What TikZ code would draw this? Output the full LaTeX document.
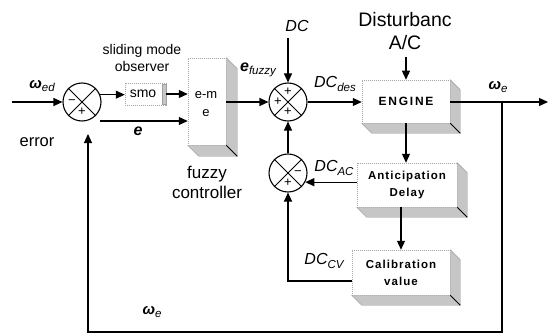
\documentclass[tikz,border=0pt]{standalone}
\usepackage{fontspec}
\setmainfont{Liberation Sans}
\usetikzlibrary{arrows.meta,calc}
\newcommand\subl[1]{\raisebox{-0.45ex}{\fontsize{11.5}{11.5}\selectfont\mdseries\itshape #1}}
\newcommand\sidebox[2]{%
  \fill[side] (#1.north east) -- ([shift={(#2,#2)}]#1.north east) -- ([shift={(#2,#2)}]#1.south east)
    -- ([shift={(#2,#2)}]#1.south west) -- (#1.south west) -- (#1.south east) -- cycle;
  \draw[line width=0.9pt] (#1.south east) -- ([shift={(#2,#2)}]#1.south east);}
\begin{document}
\begin{tikzpicture}[x=1pt,y=-1pt,
  conn/.style={line width=1.1pt,-{Triangle[length=9pt,width=8pt]}},
  wire/.style={line width=1.1pt},
  sumnode/.style={circle,draw,line width=1.1pt,minimum size=38pt,inner sep=0pt},
  face/.style={draw=gray!70,line width=0.5pt,dash pattern=on 1pt off 1pt,fill=white,inner sep=0pt,align=center},
  side/.style={fill=gray!45,draw=gray!75,line width=0.4pt},
  sign/.style={font=\fontsize{13}{13}\selectfont,inner sep=0pt},
  lab/.style={font=\fontsize{16}{16}\selectfont\itshape,inner sep=0pt},
  blab/.style={font=\fontsize{16}{16}\selectfont\bfseries\itshape,inner sep=0pt},
  plain/.style={inner sep=0pt,align=center},
  boxtxt/.style={font=\fontsize{11.5}{17}\selectfont\bfseries\addfontfeature{LetterSpace=9}},
]
\useasboundingbox (0,0) rectangle (548,334);

% summing junctions
\node[sumnode] (s1) at (82,102) {};
\node[sumnode] (s2) at (288,102) {};
\node[sumnode] (s3) at (288,173) {};
\foreach \s in {s1,s2,s3}{\draw[line width=0.9pt] (\s.45) -- (\s.225) (\s.135) -- (\s.315);}
\node[sign] at ([xshift=-10pt]s1.center) {−};
\node[sign] at ([yshift=-10pt]s1.center) {+};
\node[sign] at ([yshift=10pt]s2.center) {+};
\node[sign] at ([xshift=-10pt]s2.center) {+};
\node[sign] at ([yshift=-10pt]s2.center) {+};
\node[sign] at ([xshift=10pt]s3.center) {−};
\node[sign] at ([yshift=-10pt]s3.center) {+};

% blocks
\node[face,minimum width=41pt,minimum height=22pt] (smo) at (145.5,94) {};
\fill[side] ([shift={(-4,1)}]smo.north east) rectangle ([shift={(0,-1)}]smo.south east);
\node[inner sep=0pt,font=\fontsize{14}{14}\selectfont] at (143,94) {smo};

\node[face,minimum width=38pt,minimum height=87pt] (fz) at (207,101.5) {};
\sidebox{fz}{11}
\node[inner sep=0pt,font=\fontsize{13}{13}\selectfont] at (206,95) {e-m};
\node[inner sep=0pt,font=\fontsize{13}{13}\selectfont] at (206,113) {e};

\node[face,minimum width=88pt,minimum height=43pt,font=\fontsize{12}{12}\selectfont\bfseries\addfontfeature{LetterSpace=15}] (eng) at (406,101.5) {ENGINE};
\sidebox{eng}{10}
\node[face,boxtxt,minimum width=100pt,minimum height=44pt] (ant) at (407,185) {Anticipation\\Delay};
\sidebox{ant}{10}
\node[face,boxtxt,minimum width=98pt,minimum height=45pt] (cal) at (401,272.5) {Calibration\\value};
\sidebox{cal}{10}

% coordinates
\coordinate (in0) at (12,102);
\coordinate (eS) at (100,121);
\coordinate (dcTop) at (288,38);
\coordinate (acTop) at (406,57);
\coordinate (j) at (502,102);
\coordinate (out) at (548,102);
\coordinate (bR) at (502,332);
\coordinate (bL) at (88,332);
\coordinate (fbEnd) at (88,134);
\coordinate (cv) at (288,281);

% connectors
\draw[conn] (in0) -- (s1.west);
\draw[conn] (s1.22) -- (s1.22 -| smo.west);
\draw[conn] (smo.east) -- (smo.east -| fz.west);
\draw[conn] (eS) -- (eS -| fz.west);
\draw[conn] (fz.east |- s2.west) -- (s2.west);
\draw[conn] (dcTop) -- (s2.north);
\draw[conn] (s2.east) -- (s2.east -| eng.west);
\draw[conn] (acTop) -- (eng.north);
\draw[conn] (eng.east |- j) -- (out);
\draw[conn] (j) -- (bR) -- (bL) -- (fbEnd);
\draw[conn] (eng.south) -- (eng.south |- ant.north);
\draw[conn] (s3.-28 -| ant.west) -- (s3.-28);
\draw[conn] (s3.north) -- (s2.south);
\draw[conn] (cal.north |- ant.south) -- (cal.north);
\draw[conn] (cv -| cal.west) -- (cv) -- (s3.south);

% labels
\node[blab,font=\fontsize{15}{15}\selectfont\bfseries\itshape] at (42,86) {ω\subl{ed}};
\node[plain,font=\fontsize{16.5}{16.5}\selectfont] at (37,142) {error};
\node[blab] at (138,131) {e};
\node[plain,font=\fontsize{14}{17}\selectfont] at (142,58) {sliding mode\\observer};
\node[plain,font=\fontsize{17}{20}\selectfont] at (207,182) {fuzzy\\controller};
\node[plain,font=\fontsize{19.5}{23}\selectfont] at (405,31) {Disturbanc\\A/C};
\node[inner sep=0pt] at (258,70) {{\fontsize{16}{16}\selectfont\bfseries\itshape e}\subl{fuzzy}};
\node[lab] at (297,26) {DC};
\node[lab] at (335,84) {DC\subl{des}};
\node[lab] at (334,168) {DC\subl{AC}};
\node[lab] at (324,261) {DC\subl{CV}};
\node[blab,font=\fontsize{15}{15}\selectfont\bfseries\itshape] at (498,87) {ω\subl{e}};
\node[blab,font=\fontsize{15}{15}\selectfont\bfseries\itshape] at (152,312) {ω\subl{e}};
\end{tikzpicture}
\end{document}
